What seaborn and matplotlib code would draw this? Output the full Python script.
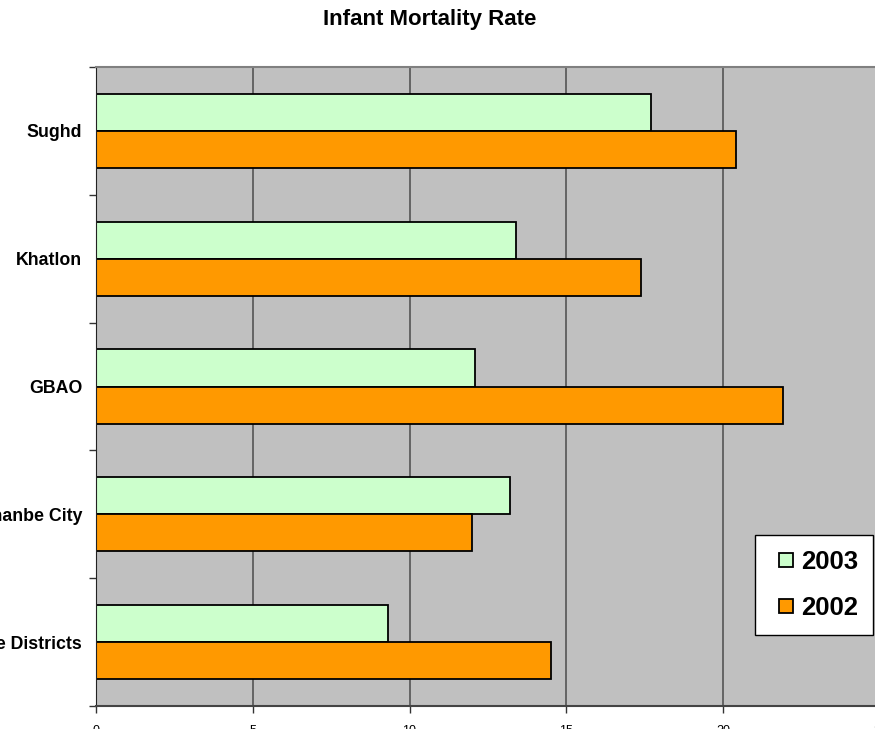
import pandas as pd
import matplotlib
matplotlib.use('Agg')
import matplotlib.pyplot as plt
from matplotlib.patches import Rectangle
from matplotlib.legend_handler import HandlerPatch
import seaborn as sns
import numpy as np

# data
regions = ['Sughd', 'Khatlon', 'GBAO', 'Dushanbe City', 'Republican Subordinate Districts']
rate_2003 = [17.7, 13.4, 12.1, 13.2, 9.3]
rate_2002 = [20.4, 17.4, 21.9, 12.0, 14.5]
years = ['2003', '2002']
xticks = [0, 5, 10, 15, 20, 25]

df = pd.DataFrame({
    'region': regions * 2,
    'rate': rate_2003 + rate_2002,
    'year': ['2003'] * len(regions) + ['2002'] * len(regions),
})

plt.rcParams['font.family'] = ['Liberation Sans', 'DejaVu Sans']

fig = plt.figure(figsize=(8.75, 7.29), dpi=100)
# axes runs past the right edge, the picture is cropped like the original
ax = fig.add_axes([96 / 875, 1 - 706 / 729, 783.75 / 875, 639 / 729])
ax.set_facecolor('#C0C0C0')

palette = {'2003': '#CCFFCC', '2002': '#FF9900'}
sns.barplot(data=df, y='region', x='rate', hue='year', hue_order=years,
            order=regions, orient='h', palette=palette, width=0.58,
            edgecolor='black', linewidth=1.3, saturation=1, ax=ax)

ax.set_xlim(0, 25)
ax.set_ylim(len(regions) - 0.5, -0.5)
ax.set_xticks(xticks)
ax.grid(axis='x', color='#555555', lw=1.2)
ax.set_axisbelow(True)

# category boundary ticks, Excel style
ax.set_yticks(np.arange(-0.5, len(regions), 1), minor=True)
ax.tick_params(axis='y', which='major', length=0, pad=10, labelsize=12.8)
ax.tick_params(axis='y', which='minor', length=5, width=1, color='#333333')
ax.tick_params(axis='x', length=5, width=1, color='#333333', pad=9, labelsize=9)
for lab in ax.get_yticklabels():
    lab.set_fontweight('bold')

for side in ['top', 'right']:
    ax.spines[side].set_color('#808080')
    ax.spines[side].set_linewidth(1.5)
ax.spines['left'].set_color('#222222')
ax.spines['bottom'].set_color('#444444')
ax.spines['bottom'].set_linewidth(1.5)

ax.set_xlabel('')
ax.set_ylabel('')

fig.text(430 / 875, 1 - 19 / 729, 'Infant Mortality Rate', ha='center', va='center',
         fontsize=16, fontweight='bold')


def small_square(legend, orig_handle, xdescent, ydescent, width, height, fontsize):
    s = 0.54 * fontsize
    return Rectangle((-xdescent + width - s, -ydescent + (height - s) / 2), s, s)


leg = ax.legend(loc='upper left', bbox_to_anchor=(755 / 875, 1 - 535 / 729),
                bbox_transform=fig.transFigure, frameon=True, fancybox=False,
                prop={'size': 18.5, 'weight': 'bold'}, handlelength=0.87,
                handleheight=0.54, handletextpad=0.31, labelspacing=0.83,
                borderpad=0.6, borderaxespad=0,
                handler_map={Rectangle: HandlerPatch(patch_func=small_square)})
leg.get_frame().set_edgecolor('black')
leg.get_frame().set_linewidth(1)
leg.get_frame().set_facecolor('white')
leg.get_frame().set_alpha(1)

fig.savefig('out.png', dpi=100)
